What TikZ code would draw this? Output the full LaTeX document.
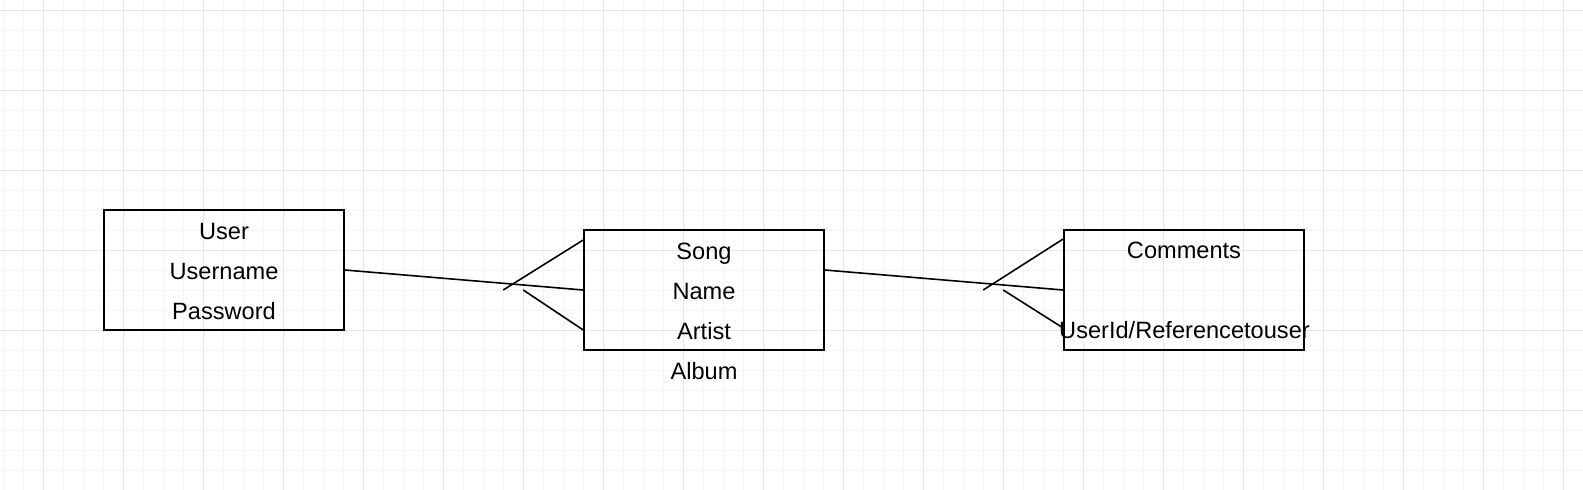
\documentclass[tikz,border=0pt]{standalone}
\usepackage{fontspec}
\setmainfont{Liberation Sans}
\usetikzlibrary{calc}
\definecolor{gridminor}{HTML}{F4F4F4}
\definecolor{gridmajor}{HTML}{E6E6E6}
\begin{document}
\begin{tikzpicture}[x=1pt,y=-1pt,
  entity/.style={draw=black,line width=1.6pt,minimum width=240pt,minimum height=120pt,inner sep=0pt,fill=none},
  label/.style={anchor=base,inner sep=0pt,font=\fontsize{23.6}{28}\selectfont},
  rel/.style={line width=1.6pt,draw=black}]
\useasboundingbox (0,0) rectangle (1583,490);
\fill[white] (0,0) rectangle (1583,490);
% grid
\foreach \gx in {3.3,23.3,...,1583}{\draw[gridminor,line width=1pt] (\gx,0) -- (\gx,490);}
\foreach \gy in {10,30,...,490}{\draw[gridminor,line width=1pt] (0,\gy) -- (1583,\gy);}
\foreach \gx in {43.3,123.3,...,1583}{\draw[gridmajor,line width=1pt] (\gx,0) -- (\gx,490);}
\foreach \gy in {10,90,...,490}{\draw[gridmajor,line width=1pt] (0,\gy) -- (1583,\gy);}
% entities
\node[entity] (user) at (224,270) {};
\node[entity] (song) at (704,290) {};
\node[entity] (comments) at (1184,290) {};
% texts
\node[label] (t1) at (224,239) {User};
\node[label] (t2) at (224,279) {Username};
\node[label] (t3) at (224,319) {Password};
\node[label] (t4) at (704,259) {Song};
\node[label] (t5) at (704,299) {Name};
\node[label] (t6) at (704,339) {Artist};
\node[label] (t7) at (704,379) {Album};
\node[label] (t8) at (1184,258) {Comments};
\node[label] (t9) at (1184.5,338) {UserId/Referencetouser};
% connectors
\draw[rel] (user.east) -- (song.west);
\draw[rel] ([yshift=50pt]song.west) -- ([xshift=-80pt]song.west);
\draw[rel] ([xshift=-60pt]song.west) -- ([yshift=-40pt]song.west);
\draw[rel] ([yshift=20pt]song.east) -- (comments.west);
\draw[rel] ([yshift=51pt]comments.west) -- ([xshift=-80pt]comments.west);
\draw[rel] ([xshift=-60pt]comments.west) -- ([yshift=-38pt]comments.west);
\end{tikzpicture}
\end{document}
